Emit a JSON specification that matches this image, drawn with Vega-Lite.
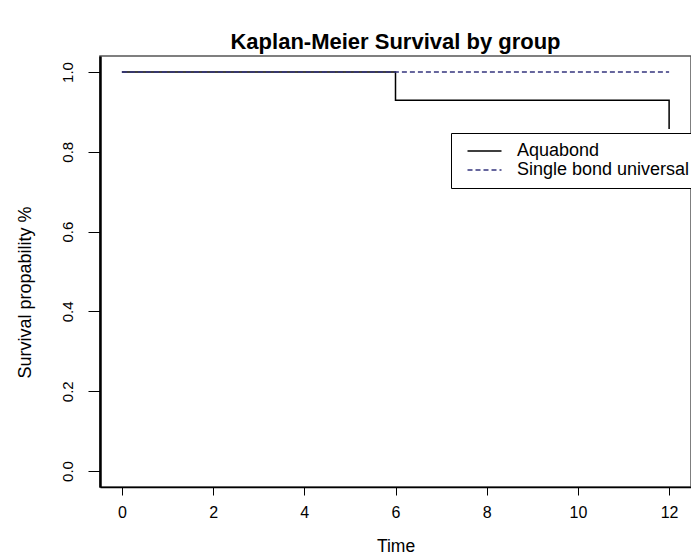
{
  "$schema": "https://vega.github.io/schema/vega-lite/v6.json",
  "autosize": "none",
  "padding": {"left": 100, "top": 56, "right": 0, "bottom": 67},
  "width": 591,
  "height": 431,
  "background": "white",
  "title": {
    "text": "Kaplan-Meier Survival by group",
    "font": "Liberation Sans",
    "fontSize": 22,
    "fontWeight": "bold",
    "color": "black",
    "anchor": "middle",
    "offset": 2
  },
  "data": {
    "values": [
      {"time": 0, "surv": 1.0, "group": "Aquabond"},
      {"time": 6, "surv": 0.929, "group": "Aquabond"},
      {"time": 12, "surv": 0.857, "group": "Aquabond"},
      {"time": 0, "surv": 1.0, "group": "Single bond universal"},
      {"time": 12, "surv": 1.0, "group": "Single bond universal"}
    ]
  },
  "mark": {"type": "line", "interpolate": "step-after", "strokeWidth": 1.5},
  "encoding": {
    "x": {
      "field": "time",
      "type": "quantitative",
      "title": "Time",
      "scale": {"domain": [-0.48, 12.48], "nice": false, "zero": false},
      "axis": {
        "values": [0, 2, 4, 6, 8, 10, 12],
        "grid": false,
        "domainColor": "black",
        "domainWidth": 1.5,
        "tickColor": "black",
        "tickSize": 8,
        "labelPadding": 9,
        "labelFontSize": 16,
        "titleFontSize": 17.5,
        "titleFontWeight": "normal",
        "titlePadding": 17
      }
    },
    "y": {
      "field": "surv",
      "type": "quantitative",
      "title": "Survival propability %",
      "scale": {"domain": [-0.04, 1.04], "nice": false, "zero": false},
      "axis": {
        "values": [0, 0.2, 0.4, 0.6, 0.8, 1.0],
        "format": ".1f",
        "grid": false,
        "domainColor": "black",
        "domainWidth": 2.5,
        "tickColor": "black",
        "tickSize": 12,
        "labelAngle": 270,
        "labelAlign": "center",
        "labelBaseline": "middle",
        "labelPadding": 21,
        "labelFontSize": 15,
        "titleFontSize": 18,
        "titleFontWeight": "normal",
        "titlePadding": 26,
        "titleY": 236
      }
    },
    "color": {
      "field": "group",
      "type": "nominal",
      "scale": {
        "domain": ["Aquabond", "Single bond universal"],
        "range": ["black", "#34347e"]
      },
      "legend": {
        "title": null,
        "orient": "none",
        "legendX": 351,
        "legendY": 77,
        "symbolType": "M-2,0H2",
        "symbolSize": 289,
        "symbolStrokeWidth": 1.5,
        "symbolOffset": 15.5,
        "labelFontSize": 18,
        "labelColor": "black",
        "labelOffset": 23,
        "labelLimit": 500,
        "rowPadding": 0,
        "padding": 8.5,
        "strokeColor": "black",
        "fillColor": "white",
        "cornerRadius": 0
      }
    },
    "strokeDash": {
      "field": "group",
      "type": "nominal",
      "scale": {
        "domain": ["Aquabond", "Single bond universal"],
        "range": [[1, 0], [5, 3]]
      },
      "legend": null
    }
  },
  "config": {
    "font": "Liberation Sans",
    "view": {"stroke": "#555555", "strokeWidth": 1.5},
    "axis": {
      "labelFont": "Liberation Sans",
      "titleFont": "Liberation Sans",
      "labelColor": "black",
      "titleColor": "black"
    },
    "legend": {"labelFont": "Liberation Sans"}
  }
}
